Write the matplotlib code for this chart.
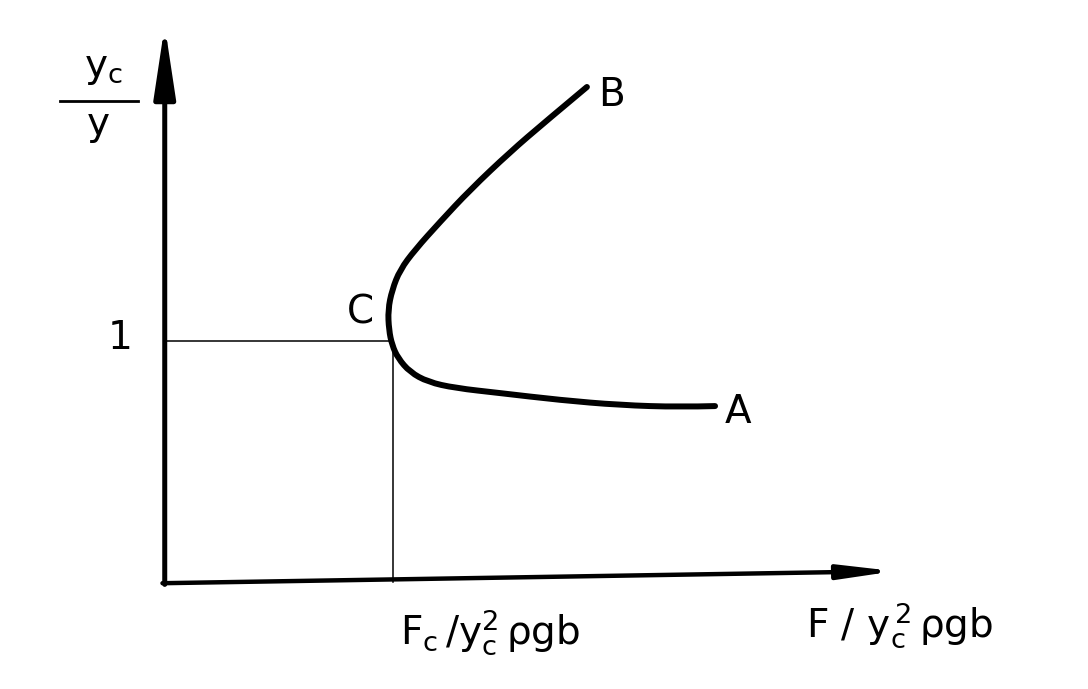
import matplotlib.pyplot as plt
from matplotlib.path import Path
from matplotlib.patches import PathPatch

plt.rcParams['font.family'] = ['DejaVu Sans']
plt.rcParams['mathtext.fontset'] = 'dejavusans'

# curve from point B down through C to A (x = F / yc^2 rho g b, y = yc / y)
curve_x = [1.858, 1.673, 1.518, 1.341, 1.208, 1.097, 1.031, 0.996, 0.978, 0.982,
           0.996, 1.022, 1.075, 1.155, 1.274, 1.473, 1.739, 2.004, 2.270, 2.425]
curve_y = [2.054, 1.909, 1.784, 1.627, 1.494, 1.378, 1.295, 1.212, 1.129, 1.046,
           0.983, 0.929, 0.871, 0.830, 0.805, 0.784, 0.755, 0.734, 0.726, 0.730]
crit_x, crit_y = 1.0, 1.0
x_max, y_max = 3.22, 2.31


def px(x, y):
    # picture pixels -> data units
    return (x - 167) / 226, (582 - y) / 241


fig = plt.figure(figsize=(10.88, 6.89), dpi=100)
ax = fig.add_axes([0, 0, 1, 1])
ax.set_xlim(px(0, 0)[0], px(1088, 0)[0])
ax.set_ylim(px(0, 689)[1], px(0, 0)[1])
ax.axis('off')

# axes with arrows
ax.annotate('', xy=(-0.01, y_max), xytext=(-0.01, -0.01),
            arrowprops=dict(arrowstyle='-|>,head_length=4.3,head_width=0.65',
                            mutation_scale=10, lw=3.6, color='black',
                            shrinkA=0, shrinkB=0))
ax.annotate('', xy=(x_max, 0.045), xytext=(-0.02, -0.005),
            arrowprops=dict(arrowstyle='-|>,head_length=3.2,head_width=0.42',
                            mutation_scale=10, lw=3.2, color='black',
                            shrinkA=0, shrinkB=0))

# guide lines to the critical point
ax.plot([0, crit_x], [crit_y, crit_y], color='black', lw=1.1)
ax.plot([crit_x, crit_x], [0, crit_y], color='black', lw=1.1)

# smooth pen stroke: quadratic segments through midpoints of the read points
pts = list(zip(curve_x, curve_y))
verts = [pts[0]]
codes = [Path.MOVETO]
for i in range(1, len(pts) - 1):
    mid = ((pts[i][0] + pts[i + 1][0]) / 2, (pts[i][1] + pts[i + 1][1]) / 2)
    if i == len(pts) - 2:
        mid = pts[-1]
    verts += [pts[i], mid]
    codes += [Path.CURVE3, Path.CURVE3]
ax.add_patch(PathPatch(Path(verts, codes), fill=False, lw=4.3,
                       edgecolor='black', capstyle='round', joinstyle='round'))

fs = 28
ax.text(*px(360, 313), 'C', fontsize=fs, ha='center', va='center')
ax.text(*px(612, 95), 'B', fontsize=fs, ha='center', va='center')
ax.text(*px(738, 412), 'A', fontsize=fs, ha='center', va='center')
ax.text(*px(120, 338), '1', fontsize=fs, ha='center', va='center')

# y axis label as fraction yc / y
ax.text(*px(103, 68), r'$\mathrm{y_c}$', fontsize=fs, ha='center', va='center')
ax.plot([px(60, 0)[0], px(138, 0)[0]], [px(0, 101)[1]] * 2, color='black', lw=2)
ax.text(*px(98, 126), r'$\mathrm{y}$', fontsize=fs, ha='center', va='center')

ax.text(*px(490, 632), r'$\mathrm{F_c\,/y^2_c\,\rho gb}$', fontsize=fs,
        ha='center', va='center')
ax.text(*px(900, 625), r'$\mathrm{F\ /\ y_c^{\,2}\,\rho gb}$', fontsize=fs,
        ha='center', va='center')

fig.savefig('out.png', dpi=100)
